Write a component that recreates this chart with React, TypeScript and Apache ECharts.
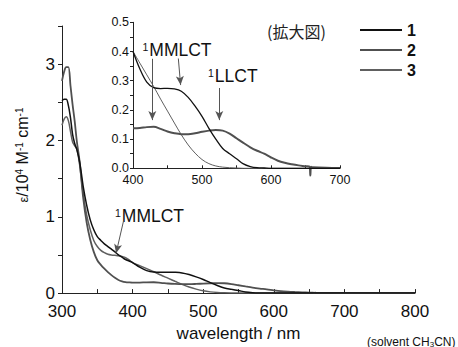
import React, { useEffect, useRef } from 'react';
import * as echarts from 'echarts';

// ---- data ----
const wavelengths = [
  300, 303, 306, 309, 312, 315, 318, 321, 325,
  330, 335, 340, 345, 350, 355, 360, 365, 370, 375, 380, 385, 390, 395, 400,
  410, 420, 430, 440, 450, 460, 470, 480, 490, 500, 510, 520, 530, 540, 550,
  560, 570, 580, 590, 600, 610, 620, 630, 640, 650,
  656, 657, 658, 660,
  680, 700, 750, 800,
];

const eps1 = [
  2.52, 2.54, 2.54, 2.46, 2.30, 2.08, 1.96, 1.88, 1.72,
  1.40, 1.15, 0.96, 0.83, 0.74, 0.69, 0.645, 0.61, 0.575, 0.54, 0.50, 0.47, 0.44, 0.42, 0.40,
  0.34, 0.295, 0.276, 0.273, 0.274, 0.272, 0.264, 0.243, 0.213, 0.178, 0.137, 0.10, 0.068, 0.05, 0.033,
  0.015, 0.006, 0.002, 0.001, 0, 0, 0, 0, 0, 0,
  0, 0, 0, 0,
  0, 0, 0, 0,
];

const eps2 = [
  2.78, 2.90, 2.96, 2.96, 2.72, 2.47, 2.25, 1.99, 1.72,
  1.25, 0.92, 0.70, 0.54, 0.43, 0.37, 0.32, 0.275, 0.235, 0.20, 0.172, 0.155, 0.145, 0.14, 0.137,
  0.138, 0.141, 0.142, 0.135, 0.126, 0.12, 0.117, 0.117, 0.12, 0.125, 0.129, 0.131, 0.129, 0.119, 0.103,
  0.087, 0.072, 0.06, 0.05, 0.037, 0.026, 0.019, 0.014, 0.01, 0.007,
  0.005, -0.025, 0.005, 0.004,
  0.002, 0.001, 0, 0,
];

const eps3 = [
  2.20, 2.28, 2.31, 2.26, 2.12, 1.98, 1.93, 1.89, 1.68,
  1.30, 1.02, 0.83, 0.69, 0.61, 0.56, 0.53, 0.51, 0.50, 0.495, 0.49, 0.48, 0.465, 0.435, 0.40,
  0.36, 0.32, 0.28, 0.237, 0.196, 0.155, 0.115, 0.08, 0.052, 0.03, 0.016, 0.008, 0.004, 0.002, 0.001,
  0, 0, 0, 0, 0, 0, 0, 0, 0, 0,
  0, 0, 0, 0,
  0, 0, 0, 0,
];

const seriesNames = ['1', '2', '3'];
const seriesValues = [eps1, eps2, eps3];

const mainXTickLabels = [300, 400, 500, 600, 700, 800];
const mainYTickLabels = [0, 1, 2, 3];
const insetXTickLabels = [400, 500, 600, 700];
const insetYTickLabels = ['0.0', '0.1', '0.2', '0.3', '0.4', '0.5'];

// annotation arrows in data coordinates [from, to]
const mainArrows = [[[387, 0.94], [376.6, 0.523]]];
const insetArrows = [
  [[428, 0.375], [428, 0.165]],
  [[465.7, 0.376], [469, 0.285]],
  [[525, 0.275], [525, 0.165]],
];

// ---- styles ----
const FONT = '"Liberation Sans", Arial, Helvetica, sans-serif';
const CJK = '"Noto Sans CJK JP", "Noto Sans CJK SC", sans-serif';
const colors = ['#111111', '#505050', '#606060'];
const mainWidths = [1.5, 1.8, 1.5];
const insetWidths = [1.3, 2, 1];
const AXIS = '#222';

function pairs(vals: number[], lo: number, hi: number) {
  const out: number[][] = [];
  for (let i = 0; i < wavelengths.length; i++) {
    const w = wavelengths[i];
    if (w >= lo && w <= hi) out.push([w, vals[i]]);
  }
  return out;
}

function arrowData(arr: number[][][]) {
  return arr.map((a) => [{ coord: a[0] }, { coord: a[1] }]);
}

export default function App() {
  const ref = useRef<HTMLDivElement>(null);

  useEffect(() => {
    if (!ref.current) return;
    const chart = echarts.init(ref.current, undefined, { renderer: 'svg' });

    const isInt = (v: number) => Math.abs(v - Math.round(v)) < 1e-6;

    const arrowStyle = {
      silent: true,
      symbol: ['none', 'arrow'],
      symbolSize: [6, 9],
      lineStyle: { color: '#555', width: 1, type: 'solid' },
      label: { show: false },
      emphasis: { disabled: true },
    };

    const mainSeries = seriesNames.map((n, i) => ({
      name: n,
      type: 'line',
      xAxisIndex: 0,
      yAxisIndex: 0,
      data: pairs(seriesValues[i], 300, 800),
      showSymbol: false,
      symbol: 'none',
      smooth: 0.35,
      lineStyle: { color: colors[i], width: mainWidths[i] },
      itemStyle: { color: colors[i] },
      z: 3 - i,
      ...(i === 2 ? { markLine: { ...arrowStyle, data: arrowData(mainArrows) } } : {}),
    }));

    const insetSeries = seriesNames.map((n, i) => ({
      name: n,
      type: 'line',
      xAxisIndex: 1,
      yAxisIndex: 1,
      data: pairs(seriesValues[i], 400, 700),
      showSymbol: false,
      symbol: 'none',
      smooth: 0.35,
      clip: false,
      lineStyle: { color: colors[i], width: insetWidths[i] },
      itemStyle: { color: colors[i] },
      z: 3 - i,
      ...(i === 2 ? { markLine: { ...arrowStyle, data: arrowData(insetArrows) } } : {}),
    }));

    const supText = (x: number, y: number, main: string) => ({
      type: 'text',
      x,
      y,
      silent: true,
      style: {
        text: `{s|1}{m|${main}}`,
        verticalAlign: 'top',
        align: 'left',
        rich: {
          s: { fontSize: 10.5, lineHeight: 9, verticalAlign: 'top', fontFamily: FONT, fill: '#111', padding: [0, 1, 0, 0] },
          m: { fontSize: 17.5, lineHeight: 18, verticalAlign: 'bottom', fontFamily: FONT, fill: '#111' },
        },
      },
    });

    const option: any = {
      animation: false,
      backgroundColor: '#fff',
      legend: {
        data: seriesNames,
        orient: 'vertical',
        left: 360,
        top: 22,
        padding: 0,
        itemGap: 4,
        itemWidth: 42,
        itemHeight: 2,
        icon: 'rect',
        selectedMode: false,
        textStyle: { fontSize: 16, fontWeight: 'bold', color: '#111', fontFamily: FONT, lineHeight: 16 },
      },
      grid: [
        { left: 62, top: 26, width: 353, height: 272 },
        { left: 133, top: 22.3, width: 207, height: 146 },
      ],
      xAxis: [
        {
          type: 'value',
          gridIndex: 0,
          min: 300,
          max: 800,
          interval: 50,
          axisLine: { show: true, onZero: false, lineStyle: { color: AXIS, width: 1 } },
          axisTick: { show: true, inside: true, length: 4, lineStyle: { color: AXIS } },
          axisLabel: {
            fontSize: 17,
            margin: 10,
            color: '#111',
            fontFamily: FONT,
            formatter: (v: number) => (isInt(v) && mainXTickLabels.includes(Math.round(v)) ? String(Math.round(v)) : ''),
          },
          splitLine: { show: false },
          name: 'wavelength / nm',
          nameLocation: 'middle',
          nameGap: 29,
          nameTextStyle: { fontSize: 17, color: '#111', fontFamily: FONT },
        },
        {
          type: 'value',
          gridIndex: 1,
          min: 400,
          max: 700,
          interval: 50,
          axisLine: { show: true, onZero: false, lineStyle: { color: AXIS, width: 1 } },
          axisTick: { show: true, inside: true, length: 3, lineStyle: { color: AXIS } },
          axisLabel: {
            fontSize: 12.5,
            margin: 5,
            color: '#111',
            fontFamily: FONT,
            formatter: (v: number) => (isInt(v) && insetXTickLabels.includes(Math.round(v)) ? String(Math.round(v)) : ''),
          },
          splitLine: { show: false },
        },
      ],
      yAxis: [
        {
          type: 'value',
          gridIndex: 0,
          min: 0,
          max: 3.5,
          interval: 0.5,
          axisLine: { show: true, onZero: false, lineStyle: { color: AXIS, width: 1 } },
          axisTick: { show: true, inside: false, length: 4, lineStyle: { color: AXIS } },
          axisLabel: {
            fontSize: 17,
            margin: 7,
            color: '#111',
            fontFamily: FONT,
            formatter: (v: number) => (isInt(v) && mainYTickLabels.includes(Math.round(v)) ? String(Math.round(v)) : ''),
          },
          splitLine: { show: false },
        },
        {
          type: 'value',
          gridIndex: 1,
          min: 0,
          max: 0.5,
          interval: 0.05,
          axisLine: { show: true, onZero: false, lineStyle: { color: AXIS, width: 1 } },
          axisTick: { show: true, inside: false, length: 3, lineStyle: { color: AXIS } },
          axisLabel: {
            fontSize: 12.5,
            margin: 4,
            color: '#111',
            fontFamily: FONT,
            formatter: (v: number) => {
              const s = v.toFixed(1);
              return Math.abs(v * 10 - Math.round(v * 10)) < 1e-6 && insetYTickLabels.includes(s) ? s : '';
            },
          },
          splitLine: { show: false },
        },
      ],
      graphic: [
        supText(115, 207, 'MMLCT'),
        supText(142.5, 41.3, 'MMLCT'),
        supText(208, 67.3, 'LLCT'),
        {
          type: 'text',
          x: 267,
          y: 31,
          silent: true,
          style: { text: '(拡大図)', fontSize: 16, fontFamily: CJK, fill: '#222', verticalAlign: 'middle', align: 'left' },
        },
        {
          type: 'text',
          x: 22,
          y: 155,
          rotation: Math.PI / 2,
          silent: true,
          style: {
            text: '{e|ε}{m|/10}{s|4}{m| M}{s|-1}{m| cm}{s|-1}',
            align: 'center',
            verticalAlign: 'middle',
            rich: {
              e: { fontSize: 13, lineHeight: 16, verticalAlign: 'bottom', fontFamily: FONT, fill: '#111' },
              m: { fontSize: 16, lineHeight: 16, verticalAlign: 'bottom', fontFamily: FONT, fill: '#111' },
              s: { fontSize: 10, lineHeight: 9, verticalAlign: 'top', fontFamily: FONT, fill: '#111' },
            },
          },
        },
        {
          type: 'text',
          x: 367,
          y: 342,
          silent: true,
          style: {
            text: '{m|(solvent CH}{b|3}{m|CN)}',
            align: 'left',
            verticalAlign: 'middle',
            rich: {
              m: { fontSize: 12, lineHeight: 12, verticalAlign: 'top', fontFamily: FONT, fill: '#111' },
              b: { fontSize: 8, lineHeight: 8, verticalAlign: 'bottom', fontFamily: FONT, fill: '#111' },
            },
          },
        },
      ],
      series: [...mainSeries, ...insetSeries],
    };

    chart.setOption(option);
    return () => chart.dispose();
  }, []);

  return (
    <div
      ref={ref}
      style={{ position: 'absolute', left: 0, top: 0, width: 458, height: 347 }}
    />
  );
}
